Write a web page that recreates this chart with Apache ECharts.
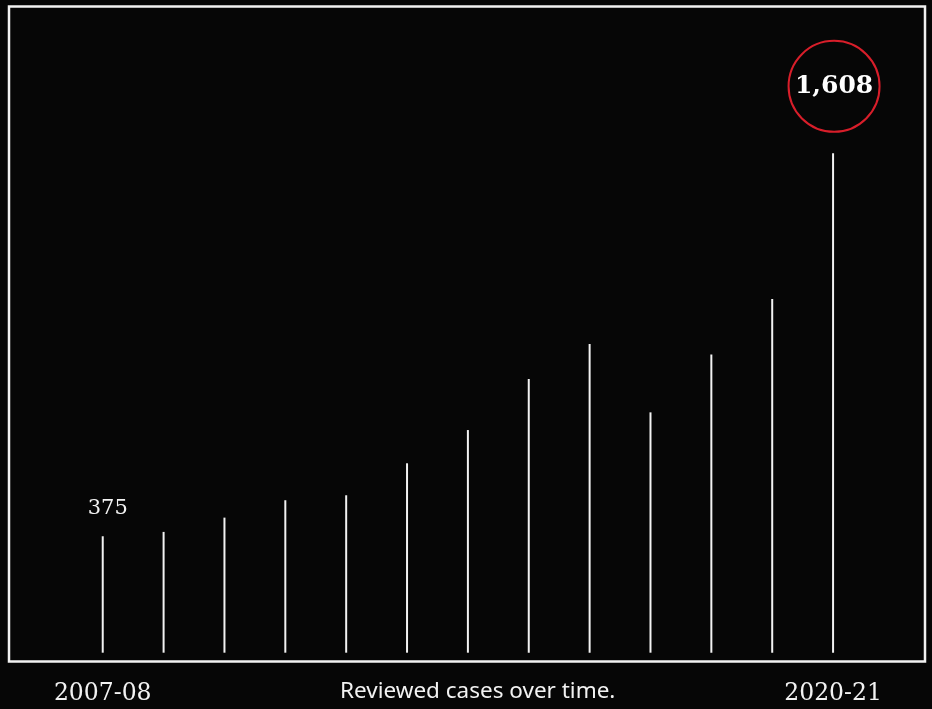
<!DOCTYPE html>
<html>
<head>
<meta charset="utf-8">
<script src="https://cdn.jsdelivr.net/npm/echarts@6/dist/echarts.min.js"></script>
<style>
html,body{margin:0;padding:0;background:#060606;}
#chart{width:932px;height:709px;}
</style>
</head>
<body>
<div id="chart"></div>
<script>
const seasons = ['2007-08','2008-09','2009-10','2010-11','2011-12','2012-13','2013-14','2014-15','2015-16','2016-17','2017-18','2018-19','2020-21'];
const reviewedCases = [375, 389, 435, 491, 507, 610, 717, 881, 994, 774, 960, 1139, 1608];
const captionText = 'Reviewed cases over time.';

const chart = echarts.init(document.getElementById('chart'));
const lastIdx = reviewedCases.length - 1;

const seriesData = reviewedCases.map((v, i) => {
  if (i === 0) {
    return { value: v, label: { show: true, position: 'top', distance: 17, offset: [5, 0],
      formatter: (p) => p.value.toLocaleString('en-US'),
      fontFamily: 'DejaVu Serif', fontSize: 21, color: '#f2f2f2' } };
  }
  if (i === lastIdx) {
    return { value: v, label: { show: true, position: 'top', distance: 20, offset: [1, -47],
      formatter: (p) => p.value.toLocaleString('en-US'),
      fontFamily: 'DejaVu Serif', fontWeight: 'bold', fontSize: 25, color: '#ffffff',
      width: 91, height: 91, lineHeight: 91, align: 'center', verticalAlign: 'middle',
      borderColor: '#d81e2a', borderWidth: 2, borderRadius: 46 } };
  }
  return v;
});

chart.setOption({
  backgroundColor: '#060606',
  animation: false,
  title: {
    text: captionText,
    left: 335, top: 675,
    textStyle: { fontFamily: 'Noto Sans', fontSize: 22.5, fontWeight: 'normal', color: '#f2f2f2' }
  },
  graphic: [{
    type: 'rect',
    shape: { x: 9, y: 6.5, width: 916, height: 655 },
    style: { fill: 'none', stroke: '#f2f2f2', lineWidth: 2.5 },
    silent: true
  }],
  grid: { left: 72.3, width: 791.2, bottom: 56.3, top: 124.8, containLabel: false },
  xAxis: {
    type: 'category',
    data: seasons,
    axisLine: { show: false },
    axisTick: { show: false },
    axisLabel: {
      interval: (idx) => idx === 0 || idx === lastIdx,
      margin: 29,
      fontFamily: 'DejaVu Serif', fontSize: 23.5, color: '#f2f2f2'
    }
  },
  yAxis: {
    type: 'value', min: 0, max: 1700,
    show: false, splitLine: { show: false }
  },
  series: [{
    type: 'bar',
    barWidth: 2,
    data: seriesData,
    itemStyle: { color: '#f2f2f2' }
  }]
});
</script>
</body>
</html>
